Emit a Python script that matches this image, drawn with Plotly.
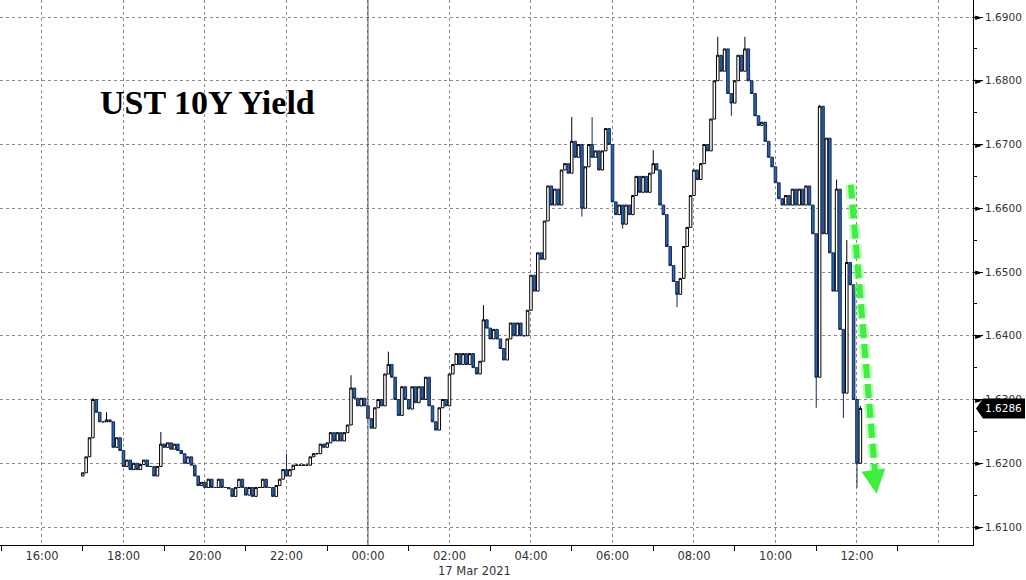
import plotly.graph_objects as go
import pandas as pd

# ---------------- data (5-minute bars, UST 10Y yield) ----------------
start_time = "2021-03-16 17:00"
first_open = 1.6180
closes_by_hour = {
    "17": [1.6185, 1.6210, 1.6240, 1.6300, 1.6280, 1.6265, 1.6265, 1.6268, 1.6265, 1.6225, 1.6240, 1.6220],
    "18": [1.6195, 1.6205, 1.6190, 1.6200, 1.6190, 1.6198, 1.6205, 1.6195, 1.6195, 1.6180, 1.6195, 1.6230],
    "19": [1.6225, 1.6232, 1.6222, 1.6230, 1.6220, 1.6215, 1.6200, 1.6210, 1.6197, 1.6180, 1.6165, 1.6170],
    "20": [1.6162, 1.6175, 1.6162, 1.6162, 1.6175, 1.6162, 1.6162, 1.6160, 1.6148, 1.6162, 1.6175, 1.6162],
    "21": [1.6150, 1.6162, 1.6148, 1.6162, 1.6162, 1.6175, 1.6162, 1.6162, 1.6148, 1.6165, 1.6175, 1.6190],
    "22": [1.6180, 1.6190, 1.6197, 1.6197, 1.6197, 1.6197, 1.6197, 1.6210, 1.6215, 1.6215, 1.6230, 1.6225],
    "23": [1.6232, 1.6248, 1.6235, 1.6248, 1.6235, 1.6248, 1.6260, 1.6318, 1.6302, 1.6290, 1.6302, 1.6290],
    "00": [1.6270, 1.6255, 1.6287, 1.6300, 1.6290, 1.6340, 1.6355, 1.6335, 1.6300, 1.6275, 1.6320, 1.6300],
    "01": [1.6285, 1.6320, 1.6295, 1.6320, 1.6300, 1.6335, 1.6290, 1.6265, 1.6252, 1.6287, 1.6300, 1.6290],
    "02": [1.6340, 1.6355, 1.6372, 1.6355, 1.6372, 1.6355, 1.6372, 1.6350, 1.6340, 1.6360, 1.6425, 1.6412],
    "03": [1.6395, 1.6410, 1.6395, 1.6380, 1.6362, 1.6395, 1.6420, 1.6400, 1.6420, 1.6400, 1.6400, 1.6440],
    "04": [1.6495, 1.6470, 1.6530, 1.6520, 1.6580, 1.6635, 1.6605, 1.6630, 1.6605, 1.6660, 1.6670, 1.6655],
    "05": [1.6705, 1.6680, 1.6700, 1.6600, 1.6665, 1.6700, 1.6680, 1.6690, 1.6660, 1.6690, 1.6725, 1.6700],
    "06": [1.6610, 1.6590, 1.6605, 1.6575, 1.6605, 1.6590, 1.6620, 1.6650, 1.6625, 1.6650, 1.6625, 1.6655],
    "07": [1.6670, 1.6660, 1.6605, 1.6590, 1.6540, 1.6510, 1.6485, 1.6465, 1.6490, 1.6540, 1.6570, 1.6620],
    "08": [1.6660, 1.6645, 1.6670, 1.6700, 1.6690, 1.6740, 1.6800, 1.6840, 1.6815, 1.6850, 1.6780, 1.6765],
    "09": [1.6800, 1.6840, 1.6815, 1.6850, 1.6800, 1.6780, 1.6745, 1.6730, 1.6735, 1.6705, 1.6680, 1.6665],
    "10": [1.6640, 1.6615, 1.6605, 1.6620, 1.6605, 1.6630, 1.6605, 1.6630, 1.6605, 1.6635, 1.6605, 1.6560],
    "11": [1.6335, 1.6760, 1.6560, 1.6710, 1.6530, 1.6470, 1.6630, 1.6410, 1.6310, 1.6515, 1.6480, 1.6300],
    "12": [1.6200, 1.6286],
}
extra_highs = {
    "2021-03-16 17:15": 1.6302, "2021-03-16 17:35": 1.6280, "2021-03-16 18:55": 1.6249,
    "2021-03-16 22:00": 1.6215, "2021-03-16 23:35": 1.6338, "2021-03-17 00:30": 1.6375,
    "2021-03-17 02:50": 1.6448, "2021-03-17 05:00": 1.6743, "2021-03-17 05:30": 1.6743,
    "2021-03-17 07:00": 1.6691, "2021-03-17 08:35": 1.6869, "2021-03-17 09:15": 1.6869,
    "2021-03-17 11:05": 1.6762, "2021-03-17 11:30": 1.6645, "2021-03-17 11:45": 1.6550,
    "2021-03-17 12:05": 1.6290,
}
extra_lows = {
    "2021-03-17 05:15": 1.6587, "2021-03-17 06:15": 1.6568, "2021-03-17 07:35": 1.6445,
    "2021-03-17 08:55": 1.6745, "2021-03-17 11:00": 1.6287, "2021-03-17 11:40": 1.6271,
    "2021-03-17 12:00": 1.6162,
}
y_ticks = [1.61, 1.62, 1.63, 1.64, 1.65, 1.66, 1.67, 1.68, 1.69]
x_tick_times = ["2021-03-16 %02d:00" % h for h in (16, 18, 20, 22)] + \
               ["2021-03-17 %02d:00" % h for h in (0, 2, 4, 6, 8, 10, 12, 14)]
x_tick_labels = ["16:00", "18:00", "20:00", "22:00", "00:00", "02:00", "04:00",
                 "06:00", "08:00", "10:00", "12:00", ""]
date_label = "17 Mar 2021"
title_text = "UST 10Y Yield"

# ---------------- build OHLC ----------------
closes = [v for h in closes_by_hour.values() for v in h]
times = pd.date_range(start_time, periods=len(closes), freq="5min")
opens = [first_open] + closes[:-1]
highs, lows = [], []
for t, o, c in zip(times, opens, closes):
    key = t.strftime("%Y-%m-%d %H:%M")
    highs.append(max(o, c, extra_highs.get(key, 0)))
    lows.append(min(o, c, extra_lows.get(key, 9)))
last_close = closes[-1]

fig = go.Figure()
fig.add_trace(go.Candlestick(
    x=times, open=opens, high=highs, low=lows, close=closes,
    increasing=dict(line=dict(color="#000000", width=1), fillcolor="#ffffff"),
    decreasing=dict(line=dict(color="#10295a", width=1), fillcolor="#2a64aa"),
    whiskerwidth=0, showlegend=False, hoverinfo="skip",
))

tick_font = dict(family="DejaVu Sans", size=10.5, color="#333333")

fig.update_layout(
    width=1026, height=580,
    margin=dict(l=0, r=53, t=0, b=35),
    paper_bgcolor="white", plot_bgcolor="white",
    boxgap=0.25, boxgroupgap=0.0,
    xaxis=dict(
        range=["2021-03-16 14:58:10", "2021-03-17 14:50:50"],
        rangeslider=dict(visible=False),
        tickmode="array", tickvals=x_tick_times, ticktext=x_tick_labels,
        tickfont=dict(family="DejaVu Sans", size=11.5, color="#333333"),
        ticks="", showline=True, linecolor="black", linewidth=1,
        showgrid=True, gridcolor="#8a8a8a", griddash="dot", gridwidth=1,
        minor=dict(tick0="2021-03-16 15:00", dtick=7200000, ticks="outside",
                   ticklen=5, tickcolor="black", showgrid=False),
        zeroline=False,
    ),
    yaxis=dict(
        side="right", range=[1.607176, 1.692667],
        tickmode="array", tickvals=y_ticks, ticktext=["%.4f" % v for v in y_ticks],
        tickfont=tick_font, ticks="outside", ticklen=9, tickcolor="black", tickwidth=1,
        showline=True, linecolor="black", linewidth=1,
        showgrid=True, gridcolor="#8a8a8a", griddash="dot", gridwidth=1,
        minor=dict(dtick=0.005, tick0=1.605, ticks="outside", ticklen=3,
                   tickcolor="black", showgrid=False),
        zeroline=False,
    ),
)

# day separator
fig.add_shape(type="line", xref="x", yref="paper", x0="2021-03-17 00:00", x1="2021-03-17 00:00",
              y0=0, y1=1, line=dict(color="#555555", width=1))

# tick triangles on right axis
for v in y_ticks:
    fig.add_annotation(xref="paper", yref="y", x=1, y=v, text="►", showarrow=False,
                       xanchor="left", xshift=0, font=dict(family="DejaVu Sans", size=9, color="black"))

# last value tag
fig.add_shape(type="path", xref="paper", yref="y", xsizemode="pixel", ysizemode="pixel",
              xanchor=1, yanchor=last_close,
              path="M 3,0 L 10,10 L 52,10 L 52,-10 L 10,-10 Z",
              fillcolor="black", line=dict(width=0), layer="above")
fig.add_annotation(xref="paper", yref="y", x=1, y=last_close, text="%.4f" % last_close,
                   showarrow=False, xanchor="left", xshift=10,
                   font=dict(family="DejaVu Sans", size=10.5, color="white"))

# title
fig.add_annotation(xref="paper", yref="paper", x=98 / 973, y=1 - 102 / 545, text="<b>%s</b>" % title_text,
                   showarrow=False, xanchor="left", yanchor="middle",
                   font=dict(family="Liberation Serif", size=34, color="black"))

# date label
fig.add_annotation(xref="paper", yref="paper", x=474 / 973, y=-(571 - 545) / 545, text=date_label,
                   showarrow=False, xanchor="center", yanchor="middle",
                   font=dict(family="DejaVu Sans", size=11.5, color="#333333"))

# green dashed arrow
arrow_start = ("2021-03-17 11:51", 1.6637)
arrow_end = ("2021-03-17 12:27", 1.6180)
head_tip = ("2021-03-17 12:29", 1.6152)
for w, col in ((11, "rgba(80,240,80,0.35)"), (6, "#3df03d")):
    fig.add_shape(type="line", xref="x", yref="y",
                  x0=arrow_start[0], y0=arrow_start[1], x1=arrow_end[0], y1=arrow_end[1],
                  line=dict(color=col, width=w, dash="14px,6px"))
fig.add_annotation(xref="x", yref="y", x=head_tip[0], y=head_tip[1], ax=-2, ay=-14,
                   axref="pixel", ayref="pixel", text="", showarrow=True,
                   arrowhead=2, arrowsize=0.8, arrowwidth=6, arrowcolor="#3df03d")

fig.write_html("out.html", config={"displayModeBar": False},
               post_script="document.body.style.margin='0';document.body.style.overflow='hidden';")
